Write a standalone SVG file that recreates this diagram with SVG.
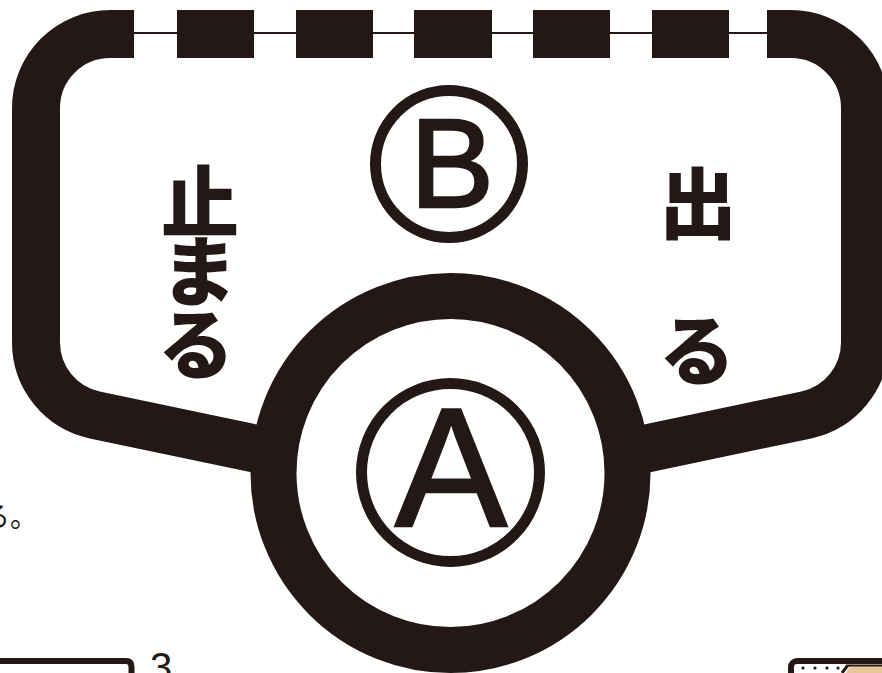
<svg xmlns="http://www.w3.org/2000/svg" width="882" height="673" viewBox="0 0 882 673">
  <defs>
    <style>
      .trk { fill: none; stroke: #231815; stroke-width: 48; stroke-linejoin: round; }
      .blk { fill: #231815; }
      .jp { font-family: "Noto Sans CJK JP", "Noto Sans CJK SC", sans-serif; font-weight: 900; fill: #231815; text-anchor: middle; }
      .lat { font-family: "Liberation Sans", Arial, sans-serif; fill: #231815; text-anchor: middle; }
      .thick { stroke: #231815; stroke-width: 2.5; stroke-linejoin: miter; }
    </style>
    <path id="half" class="trk" d="M 134 34 H 110 A 74 74 0 0 0 36 108 V 342.6 A 74 74 0 0 0 94.7 414.9 L 290 456"/>
  </defs>
  <rect width="882" height="673" fill="#ffffff"/>

  <g id="connectors">
    <line x1="134" y1="33" x2="767" y2="33" stroke="#231815" stroke-width="2"/>
    <use href="#half"/>
    <use href="#half" transform="translate(901,0) scale(-1,1)"/>
  </g>

  <g id="blocks">
    <rect class="blk" x="177" y="10" width="77" height="48"/>
    <rect class="blk" x="296" y="10" width="77" height="48"/>
    <rect class="blk" x="414" y="10" width="78" height="48"/>
    <rect class="blk" x="533" y="10" width="77" height="48"/>
    <rect class="blk" x="652" y="10" width="77" height="48"/>
  </g>

  <g id="nodeA">
    <circle cx="450.5" cy="473" r="177" fill="#ffffff" stroke="#231815" stroke-width="46"/>
    <circle cx="450.5" cy="472.5" r="89" fill="none" stroke="#231815" stroke-width="11"/>
    <text class="lat thick" x="451" y="526" font-size="168">A</text>
  </g>

  <g id="nodeB">
    <circle cx="449" cy="164" r="73.5" fill="none" stroke="#231815" stroke-width="11"/>
    <text class="lat thick" x="452" y="207" font-size="126">B</text>
  </g>

  <g id="label-stop">
    <text class="jp" x="200" y="232" font-size="78">止</text>
    <text class="jp" x="199" y="300" font-size="76">ま</text>
    <text class="jp" x="196" y="373" font-size="76">る</text>
  </g>

  <g id="label-go">
    <text class="jp" x="698" y="233" font-size="78">出</text>
    <text class="jp" x="697" y="379" font-size="76">る</text>
  </g>

  <g id="fragments">
    <text x="-18" y="527" font-size="28" font-family="Noto Sans CJK JP, sans-serif" fill="#231815">る。</text>
    <path d="M -5 661 H 126 Q 131.5 661 131.5 667 V 680" fill="none" stroke="#231815" stroke-width="6"/>
    <text class="lat" x="161" y="681" font-size="40">3</text>
    <rect x="791" y="661" width="110" height="30" rx="6" fill="#ffffff" stroke="#231815" stroke-width="6"/>
    <g fill="#231815">
      <circle cx="803" cy="668" r="1.6"/>
      <circle cx="815" cy="668" r="1.6"/>
      <circle cx="827" cy="668" r="1.6"/>
      <circle cx="838" cy="668" r="1.6"/>
    </g>
    <polygon points="850,666 882,666 882,673 846,673" fill="#e8c79a"/>
    <line x1="842" y1="673" x2="848" y2="665" stroke="#231815" stroke-width="3"/>
    <line x1="848" y1="665.5" x2="882" y2="665.5" stroke="#231815" stroke-width="2"/>
  </g>
</svg>
